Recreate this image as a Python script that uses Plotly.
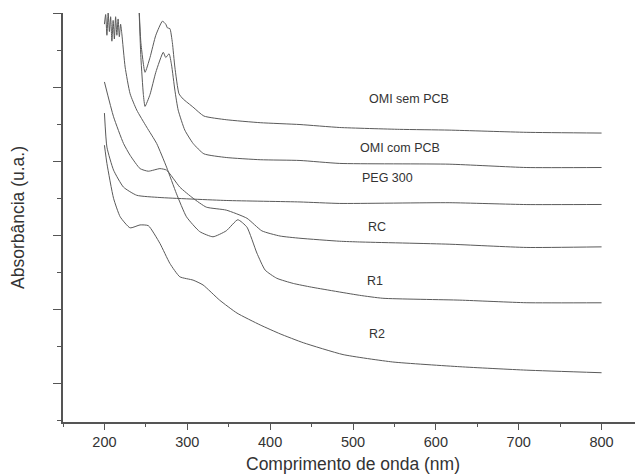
import plotly.graph_objects as go

# ---- data (wavelength nm, absorbance a.u.) ----
omi_sem_x = [241, 244, 249, 255, 262, 270, 274, 276, 279, 282, 285, 290, 295, 307, 320, 347, 388, 436, 484, 556, 616, 709, 800]
omi_sem_y = [5.30, 4.60, 4.20, 4.40, 4.70, 4.89, 4.85, 4.80, 4.79, 4.60, 4.27, 3.91, 3.84, 3.73, 3.61, 3.56, 3.52, 3.495, 3.455, 3.43, 3.42, 3.39, 3.38]

omi_com_x = [241, 244, 247, 249, 255, 262, 271, 274, 278, 281, 285, 289, 297, 307, 320, 347, 388, 436, 484, 616, 709, 800]
omi_com_y = [5.30, 4.40, 3.90, 3.74, 3.90, 4.20, 4.47, 4.40, 4.45, 4.30, 3.96, 3.69, 3.42, 3.24, 3.10, 3.05, 3.02, 3.01, 2.97, 2.96, 2.915, 2.915]

peg_x = [200, 203, 211, 223, 239, 267, 347, 436, 484, 616, 709, 800]
peg_y = [3.65, 3.19, 2.88, 2.65, 2.54, 2.51, 2.47, 2.45, 2.43, 2.44, 2.415, 2.416]

rc_x = [200, 211, 223, 231, 243, 253, 267, 275, 291, 307, 323, 347, 372, 390, 412, 436, 484, 508, 616, 709, 800]
rc_y = [4.07, 3.60, 3.24, 3.08, 2.90, 2.865, 2.90, 2.88, 2.65, 2.50, 2.38, 2.34, 2.23, 2.06, 1.99, 1.96, 1.92, 1.91, 1.88, 1.836, 1.844]

r1_x = [200, 201.5, 203, 204.5, 206, 207.5, 209, 210.5, 212, 213.5, 215, 216.5, 218, 219.5, 221, 225, 231, 239, 251, 263, 275, 287, 299, 315, 331, 347, 361, 372, 384, 394, 408, 428, 450, 508, 536, 629, 709, 800]
r1_y = [4.85, 4.98, 4.70, 5.00, 4.75, 4.95, 4.62, 4.90, 4.65, 4.95, 4.70, 4.92, 4.68, 4.85, 4.72, 4.27, 3.91, 3.69, 3.46, 3.24, 2.92, 2.56, 2.25, 2.05, 1.98, 2.06, 2.21, 2.11, 1.76, 1.53, 1.42, 1.35, 1.30, 1.19, 1.15, 1.125, 1.09, 1.089]

r2_x = [200, 203, 211, 219, 231, 243, 253, 267, 279, 291, 307, 319, 339, 360, 388, 412, 440, 488, 548, 629, 709, 800]
r2_y = [3.216, 2.97, 2.50, 2.25, 2.10, 2.14, 2.13, 1.89, 1.62, 1.44, 1.395, 1.33, 1.125, 0.95, 0.79, 0.67, 0.55, 0.39, 0.29, 0.226, 0.18, 0.145]

labels = ["OMI sem PCB", "OMI com PCB", "PEG 300", "RC", "R1", "R2"]
label_x = [568, 557, 542, 529, 527, 529]
label_y = [3.836, 3.175, 2.775, 2.11, 1.38, 0.667]

x_ticks = [200, 300, 400, 500, 600, 700, 800]

series = [
    (omi_sem_x, omi_sem_y), (omi_com_x, omi_com_y), (peg_x, peg_y),
    (rc_x, rc_y), (r1_x, r1_y), (r2_x, r2_y),
]

FONT = "Liberation Sans, Arial, sans-serif"

fig = go.Figure()
for (xs, ys), name in zip(series, labels):
    fig.add_trace(go.Scatter(
        x=xs, y=ys, mode="lines", name=name,
        line=dict(color="#5a5a5a", width=1, shape="spline", smoothing=0.5),
        showlegend=False, hoverinfo="skip",
    ))

for t, lx, ly in zip(labels, label_x, label_y):
    fig.add_annotation(x=lx, y=ly, text=t, showarrow=False,
                       font=dict(family=FONT, size=12.5, color="#333333"))

axis_common = dict(
    showgrid=False, zeroline=False, showline=True, linecolor="#555555", linewidth=1.5,
    ticks="outside", tickcolor="#555555", tickwidth=1.2,
)

fig.update_xaxes(
    range=[150, 850], tickvals=x_ticks, ticklen=6,
    minor=dict(dtick=50, tick0=150, ticks="outside", ticklen=3, tickcolor="#555555", tickwidth=1.2),
    tickfont=dict(family=FONT, size=14.5, color="#333333"),
    title=dict(text="Comprimento de onda (nm)", standoff=10,
               font=dict(family=FONT, size=17.5, color="#333333")),
    **axis_common,
)
fig.update_yaxes(
    range=[-0.52, 5.0005], dtick=1, tick0=0, ticklen=8, showticklabels=False,
    minor=dict(dtick=0.5, tick0=0, ticks="outside", ticklen=4, tickcolor="#555555", tickwidth=1.2),
    title=dict(text="Absorbância (u.a.)", standoff=28,
               font=dict(family=FONT, size=17.5, color="#333333")),
    **axis_common,
)

# the page body has an 8px margin, so the figure is sized/placed to compensate
fig.update_layout(
    width=635, height=466,
    margin=dict(l=55, r=0, t=5, b=52, autoexpand=False),
    paper_bgcolor="white", plot_bgcolor="white",
)

fig.write_html("out.html")
